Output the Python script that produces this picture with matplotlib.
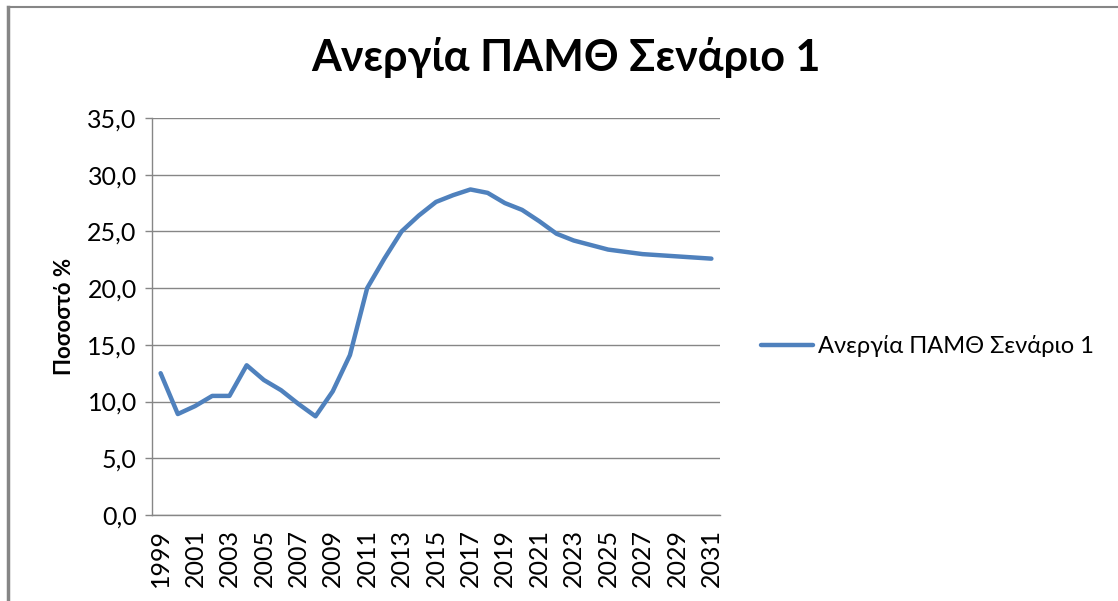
import matplotlib
matplotlib.use("Agg")
import matplotlib.pyplot as plt
from matplotlib.lines import Line2D

plt.rcParams['font.family'] = ['Lato', 'Open Sans', 'DejaVu Sans']

years = [str(y) for y in range(1999, 2032)]
values = [12.5, 8.9, 9.6, 10.5, 10.5, 13.2, 11.9, 11.0, 9.8, 8.7, 10.9, 14.1,
          20.0, 22.6, 25.0, 26.4, 27.6, 28.2, 28.7, 28.4, 27.5, 26.9, 25.9,
          24.8, 24.2, 23.8, 23.4, 23.2, 23.0, 22.9, 22.8, 22.7, 22.6]
series_name = "Ανεργία ΠΑΜΘ Σενάριο 1"
title = "Ανεργία ΠΑΜΘ Σενάριο 1"
ylabel = "Ποσοστό %"
yticks = [0, 5, 10, 15, 20, 25, 30, 35]

W, H = 1118, 601
fig = plt.figure(figsize=(W / 100, H / 100), dpi=100)
ax = fig.add_axes([152 / W, 1 - 515 / H, (720 - 152) / W, (515 - 118) / H])

x = list(range(len(years)))
ax.plot(x, values, color='#4F81BD', lw=3.2, solid_capstyle='round', solid_joinstyle='round',
        label=series_name)
ax.set_xlim(-0.5, len(years) - 0.5)
ax.set_ylim(0, 35)
ax.set_yticks(yticks)
ax.set_yticklabels([f"{v:.1f}".replace('.', ',') for v in yticks], fontsize=18, color='#000000')
ax.set_xticks(x[::2])
ax.set_xticklabels(years[::2], rotation=90, fontsize=18)
ax.tick_params(axis='x', length=0, pad=10)
ax.tick_params(axis='y', length=5, width=1, color='#868686', pad=6, direction='out')
ax.grid(axis='y', color='#868686', lw=1)
ax.set_axisbelow(True)
for s in ['top', 'right']:
    ax.spines[s].set_visible(False)
for s in ['left', 'bottom']:
    ax.spines[s].set_color('#868686')
    ax.spines[s].set_linewidth(1)

ax.set_ylabel(ylabel, fontsize=16, fontweight='bold', labelpad=9)
fig.text(566 / W, 1 - 58 / H, title, fontsize=31, fontweight='bold', ha='center', va='center')

fig.legend(loc='center left', bbox_to_anchor=(740 / W, 1 - 346 / H), frameon=False,
           fontsize=17, handlelength=2.2, handletextpad=0.2)

fig.add_artist(Line2D([8 / W, 8 / W], [0, 1 - 7 / H], color='#868686', lw=2.5, transform=fig.transFigure))
fig.add_artist(Line2D([8 / W, 1], [1 - 7 / H, 1 - 7 / H], color='#868686', lw=1.5, transform=fig.transFigure))

fig.savefig('out.png', dpi=100, facecolor='white')
